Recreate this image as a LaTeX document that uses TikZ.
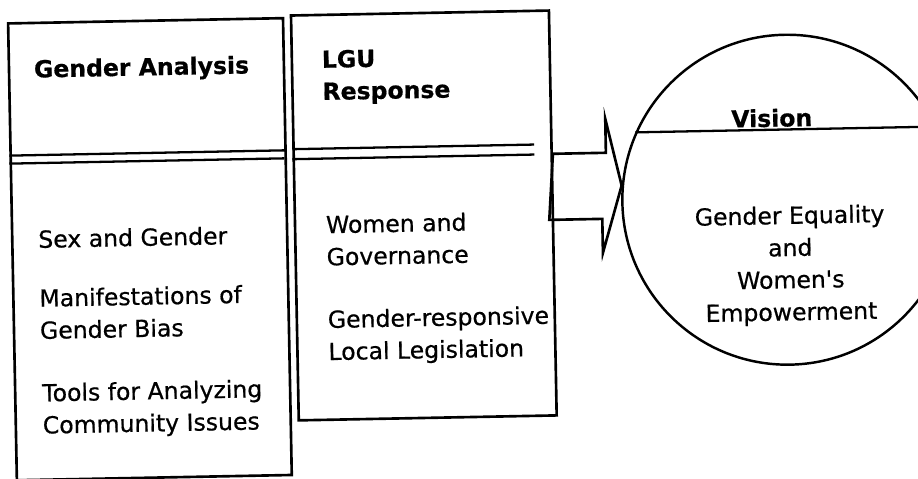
\documentclass[tikz,border=0pt]{standalone}
\usepackage{fontspec}
\setmainfont{DejaVu Sans}[RawFeature={embolden=0.6}]
\usetikzlibrary{positioning}

\tikzset{
  panel/.style={draw, rectangle, line width=1.5pt, inner sep=0pt, anchor=north west},
  heading/.style={font=\fontsize{13.4}{18.3}\selectfont\bfseries, align=left, anchor=west, inner sep=0pt},
  topic/.style={font=\fontsize{13.4}{18.3}\selectfont, align=left, anchor=west, inner sep=0pt},
  rule/.style={line width=1.3pt},
}

\begin{document}
\begin{tikzpicture}[x=0.02cm,y=-0.02cm]
  \useasboundingbox (0,0) rectangle (918,478);
  \clip (0,0) rectangle (918,478);
  \begin{scope}[rotate around={1.1:(459,239)}, transform shape]
  % Panels
  \node[panel, minimum width=5.5cm, minimum height=9.14cm] (ga) at (11,13.5) {};
  \node[panel, minimum width=5.16cm, minimum height=8.1cm] (lgu) at (294,11) {};
  \node[draw, circle, line width=1.4pt, minimum size=6.6cm, inner sep=0pt] (goal) at (788,206) {};
  % Double rules
  \draw[rule] (11,147) -- (286,147) (11,155) -- (286,155);
  \draw[rule] (294,146) -- (536,146) (294,156) -- (536,156);
  \draw[rule] (goal.155) -- (goal.25);
  % Texts
  \node[heading] (gahead) at (37,63) {Gender Analysis};
  \node[topic] (sex) at (38,231) {Sex and Gender};
  \node[topic] (bias) at (38,306) {Manifestations of\\Gender Bias};
  \node[topic] (tools) at (39,403) {Tools for Analyzing\\Community Issues};
  \node[heading] (lguhead) at (325,75) {LGU\\Response};
  \node[topic] (gov) at (326,238) {Women and\\Governance};
  \node[topic] (law) at (326,335) {Gender-responsive\\Local Legislation};
  \node[heading, anchor=center] (vision) at (774,124) {Vision};
  \node[topic, anchor=center, align=center] (equality) at (790,272) {Gender Equality\\and\\Women\textquotesingle s\\Empowerment};
  % Block arrow
  \coordinate (tip) at (goal.174);
  \coordinate (tail) at (lgu.east |- tip);
  \draw[line width=1.5pt] (tail) ++(0,-33) -- ++(53,0) -- ++(0,-34) -- (tip) -- ++(-20,67) -- ++(0,-34) -- ++(-53,0) -- cycle;
  \end{scope}
\end{tikzpicture}
\end{document}
